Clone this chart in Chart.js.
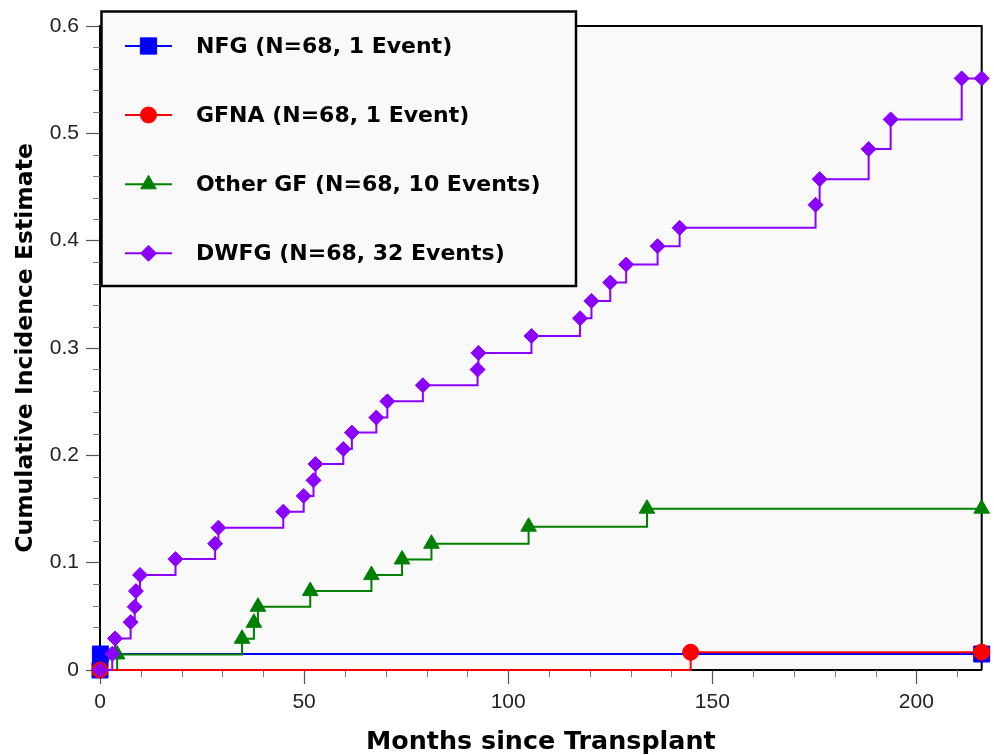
<!DOCTYPE html>
<html>
<head>
<meta charset="utf-8">
<script src="https://cdn.jsdelivr.net/npm/chart.js@4/dist/chart.umd.min.js"></script>
<style>
html,body{margin:0;padding:0;background:#fff;}
#wrap{width:994px;height:755px;position:relative;}
</style>
</head>
<body>
<div id="wrap"><canvas id="c" width="994" height="755"></canvas></div>
<script>
// ---- data (months since transplant, cumulative incidence) ----
const seriesLabels = ['NFG (N=68, 1 Event)', 'GFNA (N=68, 1 Event)', 'Other GF (N=68, 10 Events)', 'DWFG (N=68, 32 Events)'];

const nfgMonths = [0, 0.1, 216];
const nfgValues = [0, 0.0149, 0.0149];

const gfnaMonths = [0, 144.7, 216];
const gfnaValues = [0, 0.0166, 0.0166];

const otherMonths = [0, 4.2, 34.8, 37.7, 38.7, 51.5, 66.5, 74.0, 81.2, 105.0, 134.0, 216];
const otherValues = [0, 0.0145, 0.0291, 0.0440, 0.0589, 0.0735, 0.0884, 0.1030, 0.1176, 0.1335, 0.1503, 0.1503];

const dwfgMonths = [0, 3.0, 3.7, 7.5, 8.5, 8.8, 9.8, 18.5, 28.2, 29.0, 44.9, 49.9, 52.3, 52.8, 59.6, 61.7, 67.7, 70.4,
  79.1, 92.5, 92.7, 105.7, 117.6, 120.4, 125.0, 128.9, 136.6, 142.0, 175.3, 176.3, 188.3, 193.7, 211.1, 216];
const dwfgValues = [0, 0.0151, 0.0294, 0.0446, 0.0589, 0.0735, 0.0885, 0.1033, 0.1177, 0.1326, 0.1475, 0.1621, 0.1767, 0.1919, 0.2059, 0.2212, 0.2352, 0.2503,
  0.2653, 0.2799, 0.2954, 0.3112, 0.3277, 0.3439, 0.3610, 0.3778, 0.3949, 0.4120, 0.4334, 0.4573, 0.4853, 0.5130, 0.5512, 0.5512];

const xTickValues = [0, 50, 100, 150, 200];
const yTickValues = [0, 0.1, 0.2, 0.3, 0.4, 0.5, 0.6];
const xMinorStep = 10;
const yMinorStep = 0.02;

const xTitle = 'Months since Transplant';
const yTitle = 'Cumulative Incidence Estimate';

// ---- styles ----
const colors = ['#0000ff', '#ff0000', '#008000', '#8b00ff'];
const styles = ['rect', 'circle', 'triangle', 'rectRot'];
const radii = [11.3, 8, 9, 7.5];
const drawOrder = [3, 1, 2, 0];

function pts(xs, ys) { return xs.map((m, i) => ({x: m, y: ys[i]})); }
const allData = [pts(nfgMonths, nfgValues), pts(gfnaMonths, gfnaValues), pts(otherMonths, otherValues), pts(dwfgMonths, dwfgValues)];

const datasets = allData.map((d, i) => ({
  label: seriesLabels[i],
  data: d,
  stepped: 'before',
  borderColor: colors[i],
  borderWidth: 2,
  backgroundColor: colors[i],
  pointStyle: styles[i],
  pointRadius: radii[i],
  pointHoverRadius: radii[i],
  pointBackgroundColor: colors[i],
  pointBorderColor: colors[i],
  pointBorderWidth: 1,
  fill: false,
  clip: false,
  order: drawOrder[i]
}));

function drawMarker(ctx, style, x, y, r, color) {
  ctx.save();
  ctx.fillStyle = color; ctx.strokeStyle = color; ctx.lineWidth = 1;
  ctx.beginPath();
  if (style === 'rect') {
    const s = Math.SQRT1_2 * r;
    ctx.rect(x - s, y - s, 2 * s, 2 * s);
  } else if (style === 'circle') {
    ctx.arc(x, y, r, 0, Math.PI * 2);
  } else if (style === 'triangle') {
    for (let k = 0; k < 3; k++) {
      const a = k * 2 * Math.PI / 3;
      const px = x + Math.sin(a) * r, py = y - Math.cos(a) * r;
      if (k === 0) ctx.moveTo(px, py); else ctx.lineTo(px, py);
    }
    ctx.closePath();
  } else {
    ctx.moveTo(x, y - r); ctx.lineTo(x + r, y); ctx.lineTo(x, y + r); ctx.lineTo(x - r, y); ctx.closePath();
  }
  ctx.fill(); ctx.stroke();
  ctx.restore();
}

const framePlugin = {
  id: 'frame',
  beforeDraw(chart) {
    const {ctx, chartArea: a} = chart;
    ctx.save();
    ctx.fillStyle = '#ffffff';
    ctx.fillRect(0, 0, chart.width, chart.height);
    ctx.fillStyle = '#f9f9f9';
    ctx.fillRect(a.left, a.top, a.right - a.left, a.bottom - a.top);
    ctx.restore();
  },
  beforeDatasetsDraw(chart) {
    const {ctx, chartArea: a, scales: {x, y}} = chart;
    ctx.save();
    ctx.strokeStyle = '#777';
    ctx.lineWidth = 1;
    ctx.beginPath();
    for (let v = xMinorStep; v < x.max; v += xMinorStep) {
      if (Math.abs(v % 50) < 1e-6) continue;
      const px = Math.round(x.getPixelForValue(v)) + 0.5;
      ctx.moveTo(px, a.bottom); ctx.lineTo(px, a.bottom + 7);
    }
    for (let i = 1; i * yMinorStep < y.max - 1e-9; i++) {
      if (i % 5 === 0) continue;
      const py = Math.round(y.getPixelForValue(i * yMinorStep)) + 0.5;
      ctx.moveTo(a.left - 7, py); ctx.lineTo(a.left, py);
    }
    ctx.stroke();
    ctx.strokeStyle = '#000';
    ctx.lineWidth = 2;
    ctx.beginPath();
    ctx.moveTo(a.left, a.top); ctx.lineTo(a.right, a.top); ctx.lineTo(a.right, a.bottom);
    ctx.stroke();
    ctx.restore();
  },
  afterDraw(chart) {
    const {ctx} = chart;
    const bx = 101.5, by = 11.5, bw = 474.5, bh = 274.5;
    ctx.save();
    ctx.fillStyle = '#f9f9f9';
    ctx.fillRect(bx, by, bw, bh);
    ctx.strokeStyle = '#000';
    ctx.lineWidth = 2.5;
    ctx.strokeRect(bx, by, bw, bh);
    const rowY = [46, 115, 184.3, 253.3];
    ctx.font = 'bold 22px "DejaVu Sans"';
    ctx.textBaseline = 'middle';
    ctx.textAlign = 'left';
    for (let i = 0; i < 4; i++) {
      const yy = rowY[i];
      ctx.strokeStyle = colors[i];
      ctx.lineWidth = 2;
      ctx.beginPath(); ctx.moveTo(125, yy); ctx.lineTo(172, yy); ctx.stroke();
      const lr = [11.5, 8, 9, 8][i];
      drawMarker(ctx, styles[i], 148.5, yy, lr, colors[i]);
      ctx.fillStyle = '#000';
      ctx.fillText(seriesLabels[i], 196, yy + 1);
    }
    ctx.restore();
  }
};

new Chart(document.getElementById('c'), {
  type: 'line',
  data: {datasets},
  options: {
    responsive: false,
    devicePixelRatio: 1,
    animation: false,
    events: [],
    layout: {padding: {left: 0, right: 9, top: 26, bottom: 0}},
    plugins: {legend: {display: false}, tooltip: {enabled: false}},
    scales: {
      x: {
        type: 'linear',
        min: 0, max: 216,
        afterBuildTicks: s => { s.ticks = xTickValues.map(v => ({value: v})); },
        afterFit: s => { s.height = 85; },
        ticks: {font: {family: '"Liberation Sans", Arial, sans-serif', size: 21}, color: '#222', padding: 6, maxRotation: 0, autoSkip: false},
        grid: {display: true, drawOnChartArea: false, drawTicks: true, tickLength: 14, tickColor: '#555', tickWidth: 1.2},
        border: {display: true, color: '#000', width: 2},
        title: {display: true, text: xTitle, font: {family: '"DejaVu Sans"', weight: 'bold', size: 25.4, lineHeight: 1}, color: '#000', padding: {top: 0, bottom: 0}}
      },
      y: {
        type: 'linear',
        min: 0, max: 0.6,
        afterBuildTicks: s => { s.ticks = yTickValues.map(v => ({value: v})); },
        afterFit: s => { s.width = 100; },
        ticks: {font: {family: '"Liberation Sans", Arial, sans-serif', size: 21}, color: '#222', padding: 7,
          callback: v => (v === 0 ? '0' : Number(v).toFixed(1))},
        grid: {display: true, drawOnChartArea: false, drawTicks: true, tickLength: 14, tickColor: '#555', tickWidth: 1.2},
        border: {display: true, color: '#000', width: 2},
        title: {display: true, text: yTitle, font: {family: '"DejaVu Sans"', weight: 'bold', size: 23.5, lineHeight: 1}, color: '#000', padding: {top: 13.75, bottom: 0}}
      }
    }
  },
  plugins: [framePlugin]
});
</script>
</body>
</html>
